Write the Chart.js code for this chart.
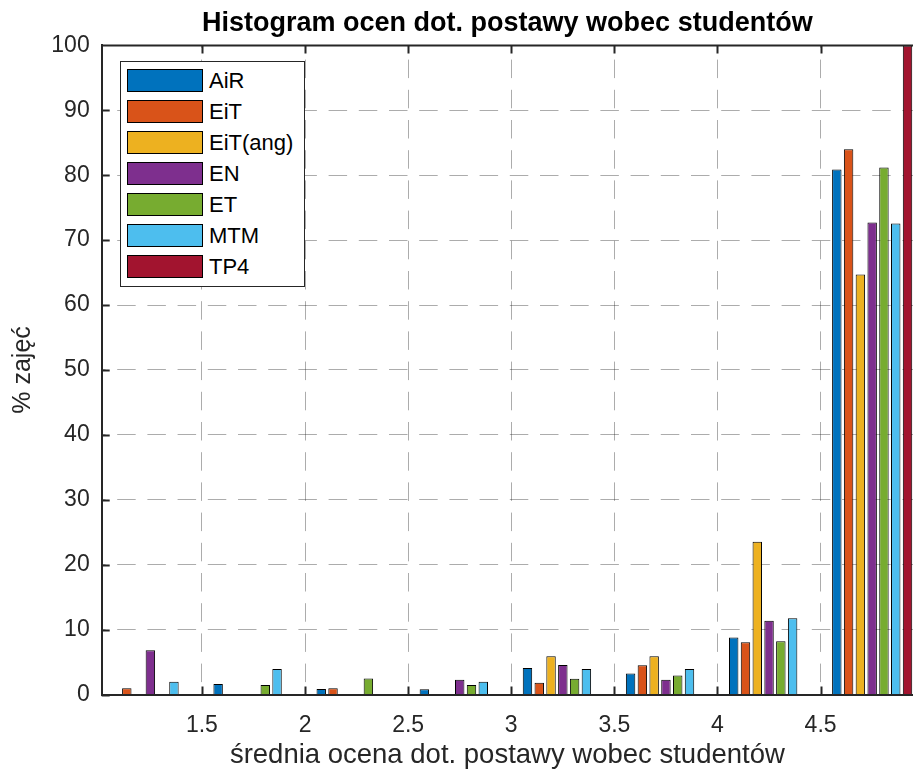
<!DOCTYPE html>
<html>
<head>
<meta charset="utf-8">
<title>Histogram ocen dot. postawy wobec studentów</title>
<script src="https://cdn.jsdelivr.net/npm/chart.js@4.4.0/dist/chart.umd.min.js"></script>
<style>
  html, body { margin: 0; padding: 0; background: #fff; overflow: hidden; }
  #wrap { position: relative; width: 913px; height: 772px; }
  #legend {
    position: absolute; left: 120px; top: 61px; width: 183px;
    padding-top: 7px; padding-bottom: 0;
    border: 1px solid #262626; background: #fff;
    font: 22px "Liberation Sans", Arial, sans-serif; color: #000;
  }
  .row { display: flex; align-items: center; height: 23px; margin: 0 0 8px 6px; }
  .sw { width: 74px; height: 21px; border: 1px solid #000; margin-right: 6px; flex: none; }
</style>
</head>
<body>
<div id="wrap">
  <canvas id="chart" width="913" height="772"></canvas>
  <div id="legend"></div>
</div>
<script>
// Data (percent of classes per bin, bins centred at .25 / .75)
const binCenters = [1.25, 1.75, 2.25, 2.75, 3.25, 3.75, 4.25, 4.75];
const seriesNames = ['AiR', 'EiT', 'EiT(ang)', 'EN', 'ET', 'MTM', 'TP4'];
const airValues = [0, 1.63, 0.85, 0.81, 4.07, 3.25, 8.8, 80.9];
const eitValues = [0.95, 0, 0.95, 0, 1.8, 4.5, 8.05, 84.0];
const eitAngValues = [0, 0, 0, 0, 5.88, 5.88, 23.53, 64.71];
const enValues = [6.82, 0, 0, 2.27, 4.55, 2.27, 11.36, 72.73];
const etValues = [0, 1.47, 2.45, 1.47, 2.43, 2.94, 8.2, 81.2];
const mtmValues = [1.96, 3.92, 0, 1.96, 3.92, 3.92, 11.76, 72.55];
const tp4Values = [0, 0, 0, 0, 0, 0, 0, 100];
const xTickValues = [1.5, 2, 2.5, 3, 3.5, 4, 4.5];
const yTickValues = [0, 10, 20, 30, 40, 50, 60, 70, 80, 90, 100];

const allValues = [airValues, eitValues, eitAngValues, enValues, etValues, mtmValues, tp4Values];
const colors = ['#0072BD', '#D95319', '#EDB120', '#7E2F8E', '#77AC30', '#4DBEEE', '#A2142F'];

const axisColor = '#262626';
const gridColor = 'rgba(38,38,38,0.38)';
const fontFamily = '"Liberation Sans", Arial, sans-serif';

const datasets = seriesNames.map((name, i) => ({
  label: name,
  data: binCenters.map((x, j) => ({ x: x, y: allValues[i][j] })),
  backgroundColor: colors[i],
  borderColor: '#000',
  borderWidth: 1,
  categoryPercentage: 0.8,
  barPercentage: 0.8
}));

// MATLAB-like frame: top border and inward tick marks
const framePlugin = {
  id: 'frame',
  afterDraw(chart) {
    const { ctx, chartArea: a, scales: { x, y } } = chart;
    ctx.save();
    ctx.strokeStyle = axisColor;
    ctx.lineWidth = 2;
    ctx.beginPath();
    ctx.moveTo(a.left, a.top);
    ctx.lineTo(a.right, a.top);
    x.ticks.forEach(t => {
      const px = Math.round(x.getPixelForValue(t.value)) + 0.5;
      ctx.moveTo(px, a.bottom);
      ctx.lineTo(px, a.bottom - 8);
      ctx.moveTo(px, a.top);
      ctx.lineTo(px, a.top + 8);
    });
    y.ticks.forEach(t => {
      const py = Math.round(y.getPixelForValue(t.value)) + 0.5;
      ctx.moveTo(a.left, py);
      ctx.lineTo(a.left + 8, py);
    });
    ctx.stroke();
    ctx.restore();
  }
};

new Chart(document.getElementById('chart'), {
  type: 'bar',
  data: { datasets: datasets },
  options: {
    responsive: false,
    animation: false,
    layout: { padding: 0 },
    plugins: {
      legend: { display: false },
      tooltip: { enabled: false },
      title: {
        display: true,
        fullSize: false,
        text: 'Histogram ocen dot. postawy wobec studentów',
        color: '#000',
        font: { family: fontFamily, size: 27, weight: 'bold' },
        padding: { top: 7, bottom: 6 }
      }
    },
    scales: {
      x: {
        type: 'linear',
        min: 1.014,
        max: 4.948,
        offset: false,
        afterBuildTicks: s => { s.ticks = xTickValues.map(v => ({ value: v })); },
        afterFit: s => { s.height = 77.5; },
        grid: { color: gridColor, lineWidth: 1, drawTicks: false, offset: false },
        border: { display: true, color: axisColor, width: 2, dash: [18.5, 11.7], dashOffset: 16 },
        ticks: {
          autoSkip: false, maxRotation: 0, padding: 17, color: axisColor,
          font: { family: fontFamily, size: 23 },
          callback: v => String(v)
        },
        title: {
          display: true,
          text: 'średnia ocena dot. postawy wobec studentów',
          color: axisColor,
          font: { family: fontFamily, size: 27.5 },
          padding: { top: 0, bottom: 0 }
        }
      },
      y: {
        min: 0,
        max: 100,
        afterBuildTicks: s => { s.ticks = yTickValues.map(v => ({ value: v })); },
        afterFit: s => { s.width = 101.7; },
        grid: { color: gridColor, lineWidth: 1, drawTicks: false },
        border: { display: true, color: axisColor, width: 2, dash: [18.5, 11.7], dashOffset: 16 },
        ticks: {
          padding: 12, color: axisColor,
          font: { family: fontFamily, size: 23 },
          callback: v => String(v)
        },
        title: {
          display: true,
          text: '% zajęć',
          color: axisColor,
          font: { family: fontFamily, size: 25 },
          padding: { top: 8, bottom: 0 }
        }
      }
    }
  },
  plugins: [framePlugin]
});

// Legend box inside the axes (top-left)
const legendEl = document.getElementById('legend');
seriesNames.forEach((name, i) => {
  const row = document.createElement('div');
  row.className = 'row';
  row.innerHTML = `<span class="sw" style="background:${colors[i]}"></span><span>${name}</span>`;
  legendEl.appendChild(row);
});
</script>
</body>
</html>
